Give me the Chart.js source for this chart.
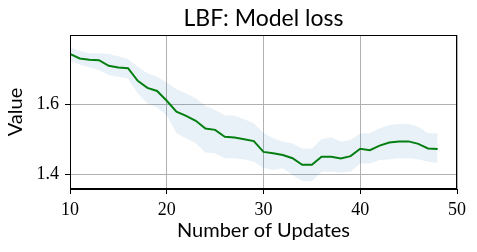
<!DOCTYPE html>
<html lang="en">
<head>
  <meta charset="UTF-8">
  <title>LBF: Model loss</title>
  <script src="https://cdn.jsdelivr.net/npm/chart.js"></script>
  <style>
    html, body { margin: 0; padding: 0; background: #fff; }
    #wrap { width: 477px; height: 252px; }
  </style>
</head>
<body>
  <div id="wrap"><canvas id="lossChart" width="477" height="252"></canvas></div>

  <script>
    // Number of updates (x) and mean model loss with its band
    const updates = [10, 11, 12, 13, 14, 15, 16, 17, 18, 19, 20, 21, 22, 23, 24, 25, 26, 27, 28, 29,
                     30, 31, 32, 33, 34, 35, 36, 37, 38, 39, 40, 41, 42, 43, 44, 45, 46, 47, 48];
    const meanLoss = [1.744, 1.731, 1.727, 1.726, 1.710, 1.705, 1.703, 1.667, 1.647, 1.638,
                      1.610, 1.579, 1.567, 1.553, 1.531, 1.527, 1.507, 1.505, 1.500, 1.495,
                      1.464, 1.460, 1.455, 1.446, 1.427, 1.427, 1.450, 1.450, 1.445, 1.452,
                      1.473, 1.469, 1.482, 1.491, 1.494, 1.494, 1.487, 1.474, 1.472];
    const upperLoss = [1.763, 1.752, 1.746, 1.746, 1.744, 1.737, 1.729, 1.707, 1.689, 1.679,
                       1.662, 1.643, 1.631, 1.617, 1.595, 1.584, 1.569, 1.567, 1.557, 1.546,
                       1.518, 1.503, 1.493, 1.489, 1.474, 1.474, 1.500, 1.506, 1.493, 1.498,
                       1.517, 1.517, 1.531, 1.541, 1.544, 1.544, 1.536, 1.517, 1.517];
    const lowerLoss = [1.725, 1.714, 1.706, 1.697, 1.684, 1.679, 1.674, 1.631, 1.603, 1.591,
                       1.569, 1.517, 1.503, 1.489, 1.462, 1.460, 1.446, 1.446, 1.443, 1.436,
                       1.418, 1.412, 1.417, 1.398, 1.381, 1.380, 1.407, 1.407, 1.405, 1.407,
                       1.431, 1.431, 1.441, 1.443, 1.446, 1.446, 1.443, 1.436, 1.433];
    const xTicks = [10, 20, 30, 40, 50];
    const yTicks = [1.4, 1.6];

    const pts = arr => updates.map((u, i) => ({ x: u, y: arr[i] }));

    // draws the top/right frame like matplotlib
    const frame = {
      id: 'frame',
      afterDraw(chart) {
        const a = chart.chartArea, ctx = chart.ctx;
        ctx.save();
        ctx.strokeStyle = '#000';
        ctx.lineWidth = 1;
        ctx.strokeRect(a.left + 0.5, a.top + 0.5, a.right - a.left - 1, a.bottom - a.top - 1);
        ctx.restore();
      }
    };

    new Chart(document.getElementById('lossChart').getContext('2d'), {
      type: 'line',
      data: {
        datasets: [
          {
            label: 'lower',
            data: pts(lowerLoss),
            borderWidth: 0,
            pointRadius: 0,
            fill: false
          },
          {
            label: 'upper',
            data: pts(upperLoss),
            borderWidth: 0,
            pointRadius: 0,
            backgroundColor: 'rgba(31, 119, 180, 0.1)',
            fill: '-1'
          },
          {
            label: 'Model loss',
            data: pts(meanLoss),
            borderColor: '#008000',
            borderWidth: 2,
            pointRadius: 0,
            tension: 0,
            fill: false
          }
        ]
      },
      options: {
        responsive: false,
        animation: false,
        layout: { padding: { left: 0, right: 20, top: 0, bottom: 0 } },
        plugins: {
          legend: { display: false },
          tooltip: { enabled: false },
          title: {
            display: true,
            fullSize: false,
            text: 'LBF: Model loss',
            color: '#000',
            font: { family: 'Lato', size: 23, weight: 'normal' },
            padding: { top: 5, bottom: 2.4 }
          }
        },
        scales: {
          x: {
            type: 'linear',
            min: 10,
            max: 50,
            afterBuildTicks: s => { s.ticks = xTicks.map(v => ({ value: v })); },
            afterFit: s => { s.height = 63; },
            grid: { color: '#b0b0b0', lineWidth: 1, tickColor: '#000', tickLength: 5 },
            border: { color: '#000', width: 1 },
            ticks: {
              color: '#000',
              padding: 5,
              maxRotation: 0,
              font: { family: 'Liberation Serif', size: 18 }
            },
            title: {
              display: true,
              text: 'Number of Updates',
              color: '#000',
              font: { family: 'Lato', size: 20 },
              padding: { top: 0, bottom: 9 }
            }
          },
          y: {
            min: 1.358,
            max: 1.798,
            afterBuildTicks: s => { s.ticks = yTicks.map(v => ({ value: v })); },
            afterFit: s => { s.width = 70; },
            grid: { color: '#b0b0b0', lineWidth: 1, tickColor: '#000', tickLength: 5 },
            border: { color: '#000', width: 1 },
            ticks: {
              color: '#000',
              padding: 6,
              font: { family: 'Liberation Serif', size: 18 },
              callback: v => v.toFixed(1)
            },
            title: {
              display: true,
              text: 'Value',
              color: '#000',
              font: { family: 'Lato', size: 20 },
              padding: { top: 4, bottom: 0 }
            }
          }
        }
      },
      plugins: [frame]
    });
  </script>
</body>
</html>
